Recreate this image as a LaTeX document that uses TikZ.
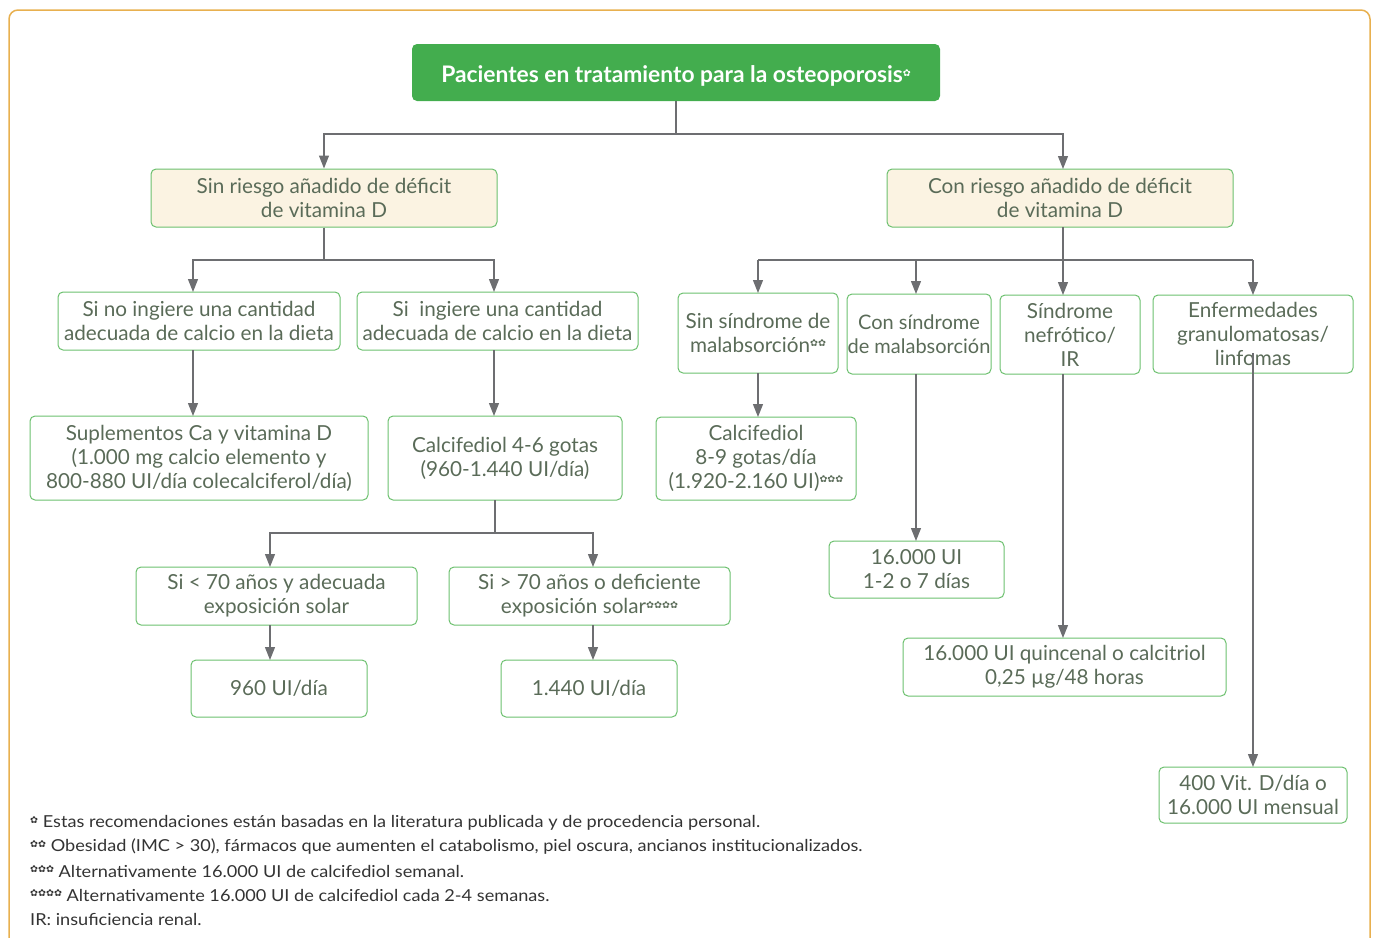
\documentclass[tikz,border=0pt]{standalone}
\usepackage{fontspec}
\setmainfont{Lato}
\newfontfamily\footfont[FakeStretch=1.1]{Lato}
\newfontfamily\symfont{DejaVu Sans}
\usetikzlibrary{arrows.meta}
\definecolor{topgreen}{HTML}{43AD4E}
\definecolor{boxgreen}{HTML}{6CC06E}
\definecolor{beige}{HTML}{FBF3E2}
\definecolor{txt}{HTML}{5A6B58}
\definecolor{lin}{HTML}{6D6E71}
\definecolor{frame}{HTML}{E8B04F}
\definecolor{foot}{HTML}{333333}
\newcommand{\fl}[1]{\raisebox{0.55ex}{\symfont\fontsize{9.5}{9.5}\selectfont #1}}
\begin{document}
\begin{tikzpicture}[x=1pt,y=-1pt,
  bx/.style={draw=boxgreen,line width=1pt,rounded corners=5pt,text=txt,align=center,
    inner sep=0pt,font=\fontsize{20.7}{24}\selectfont},
  beigebox/.style={bx,fill=beige},
  arr/.style={draw=lin,line width=1.3pt,-{Triangle[width=10pt,length=13pt]}},
  ln/.style={draw=lin,line width=1.3pt},
  foottext/.style={anchor=west,inner sep=0pt,text=foot,font=\footfont\fontsize{16.5}{20}\selectfont}]
\useasboundingbox (0,0) rectangle (1376,937);
\draw[frame,line width=1.5pt,rounded corners=9pt] (9,950) -- (9,10) -- (1370,10) -- (1370,950);

\node[fill=topgreen,rounded corners=5pt,minimum width=528pt,minimum height=57pt,inner sep=0pt,
  text height=24pt,text depth=4pt,
  text=white,font=\bfseries\fontsize{22.8}{26}\selectfont] (top) at (676,72.5)
  {Pacientes en tratamiento para la osteoporosis\fl{✿}};

\node[beigebox,minimum width=346pt,minimum height=58pt] (A) at (324,198) {Sin riesgo añadido de déficit\\de vitamina D};
\node[beigebox,minimum width=346pt,minimum height=58pt] (B) at (1060,198) {Con riesgo añadido de déficit\\de vitamina D};

\node[bx,minimum width=282pt,minimum height=58pt] (A1) at (199,321) {Si no ingiere una cantidad\\adecuada de calcio en la dieta};
\node[bx,minimum width=281pt,minimum height=58pt] (A2) at (497.5,321) {Si\ \ ingiere una cantidad\\adecuada de calcio en la dieta};
\node[bx,minimum width=338pt,minimum height=84pt] (A1b) at (199,458) {Suplementos Ca y vitamina D\\(1.000 mg calcio elemento y\\800-880 UI/día colecalciferol/día)};
\node[bx,minimum width=234pt,minimum height=84pt] (A2b) at (505,458) {Calcifediol 4-6 gotas\\(960-1.440 UI/día)};
\node[bx,minimum width=281pt,minimum height=58pt] (C1) at (276.5,596) {Si < 70 años y adecuada\\exposición solar};
\node[bx,minimum width=281pt,minimum height=58pt] (C2) at (589.5,596) {Si > 70 años o deficiente\\exposición solar\fl{✿✿✿✿}};
\node[bx,minimum width=176pt,minimum height=57pt] (D1) at (279,688.5) {960 UI/día};
\node[bx,minimum width=176pt,minimum height=57pt] (D2) at (589,688.5) {1.440 UI/día};

\node[bx,minimum width=160pt,minimum height=80pt] (B1) at (758,333) {Sin síndrome de\\malabsorción\fl{✿✿}};
\node[bx,minimum width=144pt,minimum height=80pt,font=\fontsize{20}{24}\selectfont] (B2) at (919,334) {Con síndrome\\de malabsorción};
\node[bx,minimum width=140pt,minimum height=79pt] (B3) at (1070,334.5) {Síndrome\\nefrótico/\\IR};
\node[bx,minimum width=200pt,minimum height=78pt] (B4) at (1253,334) {Enfermedades\\granulomatosas/\\linfomas};
\node[bx,minimum width=200pt,minimum height=83pt] (B1b) at (756,458.5) {Calcifediol\\8-9 gotas/día\\(1.920-2.160 UI)\fl{✿✿✿}};
\node[bx,minimum width=175pt,minimum height=57pt] (B2b) at (916.5,569.5) {16.000 UI\\1-2 o 7 días};
\node[bx,minimum width=323pt,minimum height=58pt] (B3b) at (1064.5,667) {16.000 UI quincenal o calcitriol\\0,25 µg/48 horas};
\node[bx,minimum width=188pt,minimum height=56pt] (B4b) at (1253,795) {400 Vit. D/día o\\16.000 UI mensual};

% connectors
\coordinate (j1) at (676,134);
\draw[ln] (top.south) -- (j1);
\draw[arr] (j1) -| (A.north);
\draw[arr] (j1) -| (1063,169);
\coordinate (j2) at (324,260);
\draw[ln] (A.south) -- (j2);
\draw[arr] (j2) -| (193,292);
\draw[arr] (j2) -| (494,292);
\draw[arr] (193,350) -- (193,416);
\draw[arr] (494,350) -- (494,416);
\coordinate (j3) at (495,533);
\draw[ln] (495,500) -- (j3);
\draw[arr] (j3) -| (270,567);
\draw[arr] (j3) -| (593,567);
\draw[arr] (270,625) -- (270,660);
\draw[arr] (593,625) -- (593,660);
\coordinate (j4) at (1063,260);
\draw[ln] (1063,227) -- (j4);
\draw[ln] (758,260) -- (1253,260);
\draw[arr] (758,260) -- (758,293);
\draw[arr] (916,260) -- (916,294);
\draw[arr] (1063,260) -- (1063,295);
\draw[arr] (1253,260) -- (1253,295);
\draw[arr] (758,373) -- (758,417);
\draw[arr] (916,374) -- (916,541);
\draw[arr] (1063,374) -- (1063,638);
\draw[arr] (1253,353) -- (1253,767);

% footnotes
\node[foottext] (f1) at (30,823) {\fl{✿} Estas recomendaciones están basadas en la literatura publicada y de procedencia personal.};
\node[foottext] (f2) at (30,847) {\fl{✿✿} Obesidad (IMC > 30), fármacos que aumenten el catabolismo, piel oscura, ancianos institucionalizados.};
\node[foottext] (f3) at (30,871) {\fl{✿✿✿} Alternativamente 16.000 UI de calcifediol semanal.};
\node[foottext] (f4) at (30,895) {\fl{✿✿✿✿} Alternativamente 16.000 UI de calcifediol cada 2-4 semanas.};
\node[foottext] (f5) at (30,919) {IR: insuficiencia renal.};
\end{tikzpicture}
\end{document}
